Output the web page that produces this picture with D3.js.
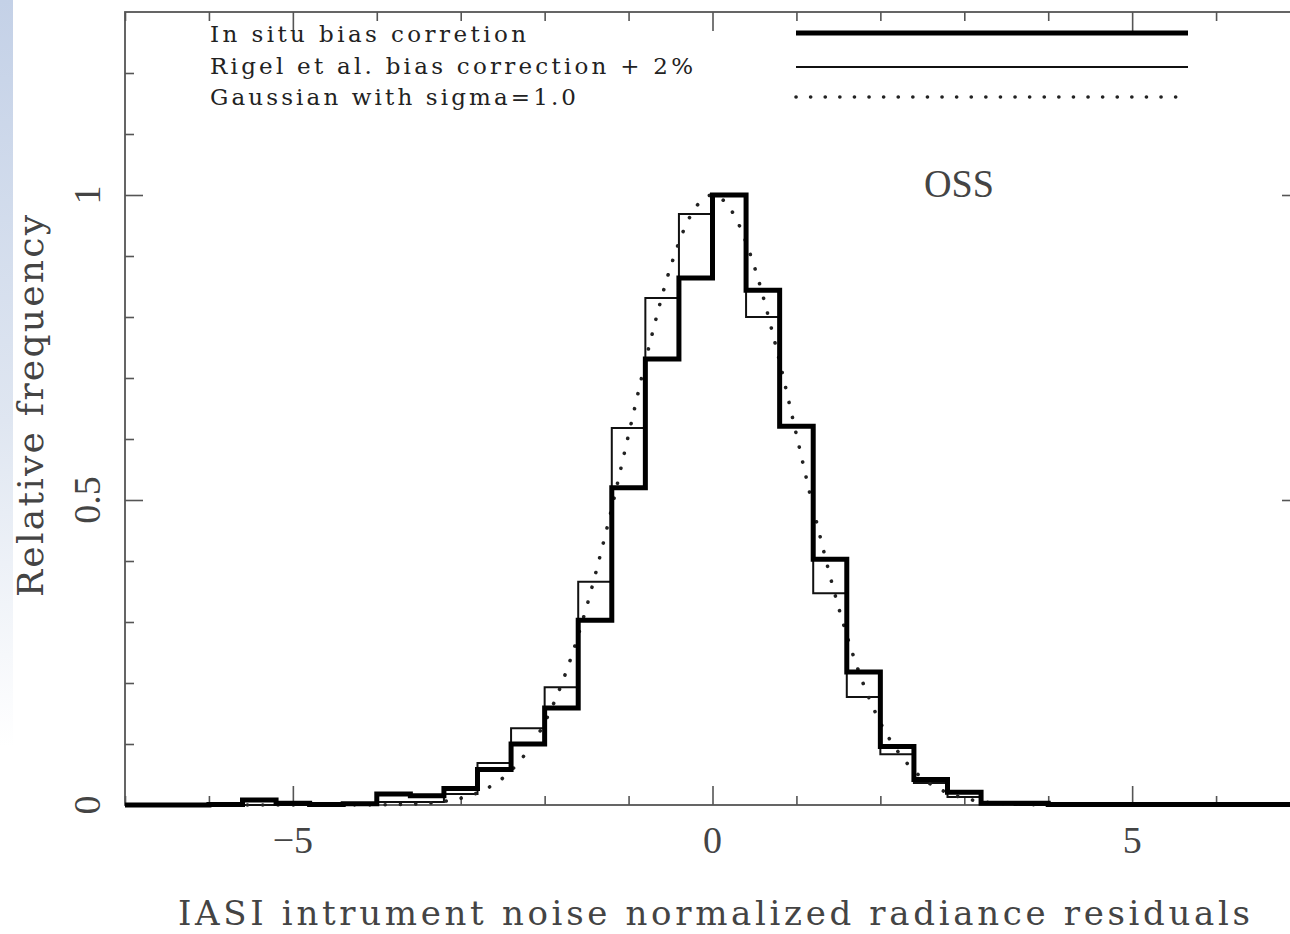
<!DOCTYPE html>
<html><head><meta charset="utf-8">
<script src="https://cdn.jsdelivr.net/npm/d3@7"></script>
<style>html,body{margin:0;padding:0;background:#fff;}svg{display:block;}</style>
</head><body>
<svg id="chart" width="1290" height="934"></svg>
<script>
// ---- data ----
const binLeftEdges = [-7.2,-6.8,-6.4,-6.0,-5.6,-5.2,-4.8,-4.4,-4.0,-3.6,-3.2,-2.8,-2.4,-2.0,-1.6,-1.2,-0.8,-0.4,
  0.0,0.4,0.8,1.2,1.6,2.0,2.4,2.8,3.2,3.6,4.0,4.4,4.8,5.2,5.6,6.0,6.4,6.8];
const binWidth = 0.4;
const inSituValues = [0,0,0,0.001,0.008,0.003,0.001,0.002,0.018,0.015,0.027,0.058,0.100,0.159,0.303,0.520,0.731,0.864,
  1.000,0.844,0.621,0.403,0.218,0.096,0.042,0.021,0.003,0.003,0.001,0.001,0.001,0.001,0.001,0.001,0.001,0.001];
const rigelValues = [0,0,0,0,0,0,0,0,0.005,0.005,0.018,0.069,0.126,0.193,0.366,0.618,0.831,0.969,
  1.000,0.800,0.621,0.347,0.177,0.083,0.036,0.013,0.002,0,0,0,0,0,0,0,0,0];
const gaussX = [-7,-4,-3.75,-3.5,-3.25,-3,-2.75,-2.5,-2.25,-2,-1.75,-1.5,-1.25,-1,-0.75,-0.5,-0.25,0,
  0.25,0.5,0.75,1,1.25,1.5,1.75,2,2.25,2.5,2.75,3,3.25,3.5,3.75,4,7];
const gaussY = [0,0.0003,0.0009,0.002,0.005,0.011,0.023,0.044,0.080,0.135,0.216,0.325,0.458,0.607,0.755,0.882,0.969,1.0,
  0.969,0.882,0.755,0.607,0.458,0.325,0.216,0.135,0.080,0.044,0.023,0.011,0.005,0.002,0.0009,0.0003,0];
const xMajorTicks = [-5,0,5];
const xMinorTicks = [-7,-6,-4,-3,-2,-1,1,2,3,4,6,7];
const xTickLabels = ["\u22125","0","5"];
const yMajorTicks = [0,0.5,1];
const yMinorTicks = [0.1,0.2,0.3,0.4,0.6,0.7,0.8,0.9,1.1,1.2];
const yTickLabels = ["0","0.5","1"];
const legendLabels = ["In situ bias corretion","Rigel et al. bias correction + 2%","Gaussian with sigma=1.0"];
const panelLabel = "OSS";
const xTitle = "IASI intrument noise normalized radiance residuals";
const yTitle = "Relative frequency";

// ---- layout ----
const L = 125, R = 1300, T = 12, B = 805;
const svg = d3.select("#chart");
const x = d3.scaleLinear().domain([-7,7]).range([L,R]);
const y = d3.scaleLinear().domain([0,1.3]).range([B,T]);

const defs = svg.append("defs");
const grad = defs.append("linearGradient").attr("id","strip").attr("x1",0).attr("y1",0).attr("x2",0).attr("y2",1);
grad.append("stop").attr("offset","0%").attr("stop-color","#c4d1e7");
grad.append("stop").attr("offset","45%").attr("stop-color","#dfe6f1");
grad.append("stop").attr("offset","80%").attr("stop-color","#ffffff");
svg.append("rect").attr("x",0).attr("y",0).attr("width",13).attr("height",934).attr("fill","url(#strip)");

defs.append("clipPath").attr("id","plotclip").append("rect")
  .attr("x",L).attr("y",T).attr("width",R-L).attr("height",B-T+6);

const axisColor = "#555";
function styleAxis(g){
  g.select(".domain").remove();
  g.selectAll(".tick line").attr("stroke",axisColor).attr("stroke-width",1.6);
  g.selectAll(".tick text").remove();
}
svg.append("g").attr("transform",`translate(0,${B})`).call(d3.axisBottom(x).tickValues(xMajorTicks).tickSize(-19)).call(styleAxis);
svg.append("g").attr("transform",`translate(0,${B})`).call(d3.axisBottom(x).tickValues(xMinorTicks).tickSize(-9)).call(styleAxis);
svg.append("g").attr("transform",`translate(0,${T})`).call(d3.axisTop(x).tickValues(xMajorTicks).tickSize(-19)).call(styleAxis);
svg.append("g").attr("transform",`translate(0,${T})`).call(d3.axisTop(x).tickValues(xMinorTicks).tickSize(-9)).call(styleAxis);
svg.append("g").attr("transform",`translate(${L},0)`).call(d3.axisLeft(y).tickValues(yMajorTicks).tickSize(-18)).call(styleAxis);
svg.append("g").attr("transform",`translate(${L},0)`).call(d3.axisLeft(y).tickValues(yMinorTicks).tickSize(-9)).call(styleAxis);
svg.append("g").attr("transform",`translate(${R},0)`).call(d3.axisRight(y).tickValues(yMajorTicks).tickSize(-18)).call(styleAxis);
svg.append("g").attr("transform",`translate(${R},0)`).call(d3.axisRight(y).tickValues(yMinorTicks).tickSize(-9)).call(styleAxis);
svg.append("rect").attr("x",L).attr("y",T).attr("width",R-L).attr("height",B-T)
  .attr("fill","none").attr("stroke",axisColor).attr("stroke-width",1.8);

// ---- histograms ----
function stepPoints(vals){
  const pts = [];
  binLeftEdges.forEach((e,i)=>{ pts.push([e, vals[i]]); pts.push([e+binWidth, vals[i]]); });
  return pts;
}
const line = d3.line().x(d=>x(d[0])).y(d=>y(d[1]));
const plot = svg.append("g").attr("clip-path","url(#plotclip)");
plot.append("path").attr("d", line(stepPoints(rigelValues)))
  .attr("fill","none").attr("stroke","#111").attr("stroke-width",2).attr("stroke-linejoin","miter");
plot.append("path").attr("d", d3.line().x(d=>x(d[0])).y(d=>y(d[1])).curve(d3.curveMonotoneX)(gaussX.map((v,i)=>[v,gaussY[i]])))
  .attr("fill","none").attr("stroke","#222").attr("stroke-width",3.6).attr("stroke-linecap","round")
  .attr("stroke-dasharray","0.1,15.2");
plot.append("path").attr("d", line(stepPoints(inSituValues)))
  .attr("fill","none").attr("stroke","#000").attr("stroke-width",5).attr("stroke-linejoin","miter");

// ---- legend ----
const legY = [33,67,97];
const legTextY = [42,74,105];
const legTextW = [316,483,366];
const lx0 = 796, lx1 = 1188;
legendLabels.forEach((t,i)=>{
  svg.append("text").attr("x",210).attr("y",legTextY[i]).text(t)
    .attr("font-family","DejaVu Serif").attr("font-size",23).attr("fill","#222")
    .attr("textLength",legTextW[i]).attr("lengthAdjust","spacing");
});
svg.append("line").attr("x1",lx0).attr("x2",lx1).attr("y1",legY[0]).attr("y2",legY[0])
  .attr("stroke","#000").attr("stroke-width",5);
svg.append("line").attr("x1",lx0).attr("x2",lx1).attr("y1",legY[1]).attr("y2",legY[1])
  .attr("stroke","#111").attr("stroke-width",2);
svg.append("line").attr("x1",lx0).attr("x2",lx1).attr("y1",legY[2]).attr("y2",legY[2])
  .attr("stroke","#222").attr("stroke-width",3.6).attr("stroke-linecap","round").attr("stroke-dasharray","0.1,14.5");

svg.append("text").attr("x",959).attr("y",197).attr("text-anchor","middle").text(panelLabel)
  .attr("font-family","Liberation Serif").attr("font-size",40).attr("fill","#444")
  .attr("textLength",70).attr("lengthAdjust","spacingAndGlyphs");

// ---- tick labels ----
const labelFont = "Liberation Serif";
xMajorTicks.forEach((v,i)=>{
  svg.append("text").attr("x",x(v)).attr("y",853).attr("text-anchor","middle").text(xTickLabels[i])
    .attr("font-family",labelFont).attr("font-size",38).attr("fill","#444");
});
yMajorTicks.forEach((v,i)=>{
  svg.append("text").attr("transform",`translate(100,${y(v)}) rotate(-90)`).attr("text-anchor","middle").text(yTickLabels[i])
    .attr("font-family",labelFont).attr("font-size",38).attr("fill","#444");
});

// ---- titles ----
svg.append("text").attr("x",178).attr("y",925).text(xTitle)
  .attr("font-family","DejaVu Serif").attr("font-size",34).attr("fill","#444")
  .attr("textLength",1072).attr("lengthAdjust","spacing");
svg.append("text").attr("transform","translate(43,597) rotate(-90)").text(yTitle)
  .attr("font-family","DejaVu Serif").attr("font-size",36).attr("fill","#444")
  .attr("textLength",382).attr("lengthAdjust","spacing");
</script>
</body></html>
